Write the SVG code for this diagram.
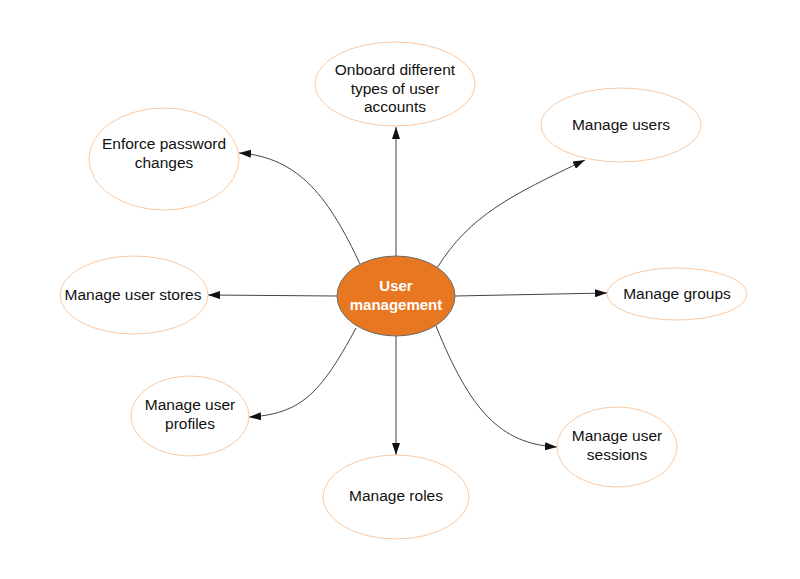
<svg xmlns="http://www.w3.org/2000/svg" width="800" height="579" viewBox="0 0 800 579">
<style>
.n{fill:#fff;stroke:#F9C9A3;stroke-width:1}
.c{fill:#E87722;stroke:#6b6b6b;stroke-width:1}
.t{font-family:"Liberation Sans",Arial,sans-serif;font-size:15.5px;fill:#111;text-anchor:middle}
.ct{font-family:"Liberation Sans",Arial,sans-serif;font-size:15px;font-weight:bold;fill:#fff;text-anchor:middle}
.e{fill:none;stroke:#444;stroke-width:1;marker-end:url(#a)}
</style>
<defs>
<marker id="a" viewBox="0 0 12 8" refX="12" refY="4" markerWidth="12" markerHeight="8" markerUnits="userSpaceOnUse" orient="auto">
<path d="M0,0 L12,4 L0,8 z" fill="#111"/>
</marker>
</defs>
<rect width="800" height="579" fill="#fff"/>
<g id="connectors">
<path class="e" d="M396,256 L396,127"/>
<path class="e" d="M437,268 C470,215 512,195 585,160"/>
<path class="e" d="M360,264 C330,200 300,157 239,153"/>
<path class="e" d="M337,296 L208,295"/>
<path class="e" d="M455,296 L607,293"/>
<path class="e" d="M356,328 C320,395 300,414 249,417"/>
<path class="e" d="M396,336 L396,455"/>
<path class="e" d="M436,326 C470,410 500,444 557,447"/>
</g>
<g id="onboard">
<ellipse class="n" cx="395" cy="84" rx="80" ry="42"/>
<text class="t" x="395" y="75">Onboard different</text>
<text class="t" x="395" y="94">types of user</text>
<text class="t" x="395" y="112">accounts</text>
</g>
<g id="manage-users">
<ellipse class="n" cx="621" cy="125" rx="80" ry="37"/>
<text class="t" x="621" y="130">Manage users</text>
</g>
<g id="enforce-password">
<ellipse class="n" cx="164" cy="159" rx="75" ry="51"/>
<text class="t" x="164" y="149">Enforce password</text>
<text class="t" x="164" y="168">changes</text>
</g>
<g id="manage-user-stores">
<ellipse class="n" cx="134" cy="295" rx="74" ry="39"/>
<text class="t" x="133" y="300">Manage user stores</text>
</g>
<g id="manage-groups">
<ellipse class="n" cx="677" cy="294" rx="70" ry="26"/>
<text class="t" x="677" y="299">Manage groups</text>
</g>
<g id="manage-user-profiles">
<ellipse class="n" cx="190" cy="416" rx="59" ry="40"/>
<text class="t" x="190" y="410">Manage user</text>
<text class="t" x="190" y="429">profiles</text>
</g>
<g id="manage-user-sessions">
<ellipse class="n" cx="617" cy="447" rx="60" ry="40"/>
<text class="t" x="617" y="441">Manage user</text>
<text class="t" x="617" y="460">sessions</text>
</g>
<g id="manage-roles">
<ellipse class="n" cx="396" cy="497" rx="73" ry="42"/>
<text class="t" x="396" y="501">Manage roles</text>
</g>
<g id="user-management">
<ellipse class="c" cx="396" cy="296" rx="59" ry="40"/>
<text class="ct" x="396" y="291">User</text>
<text class="ct" x="396" y="310">management</text>
</g>
</svg>
